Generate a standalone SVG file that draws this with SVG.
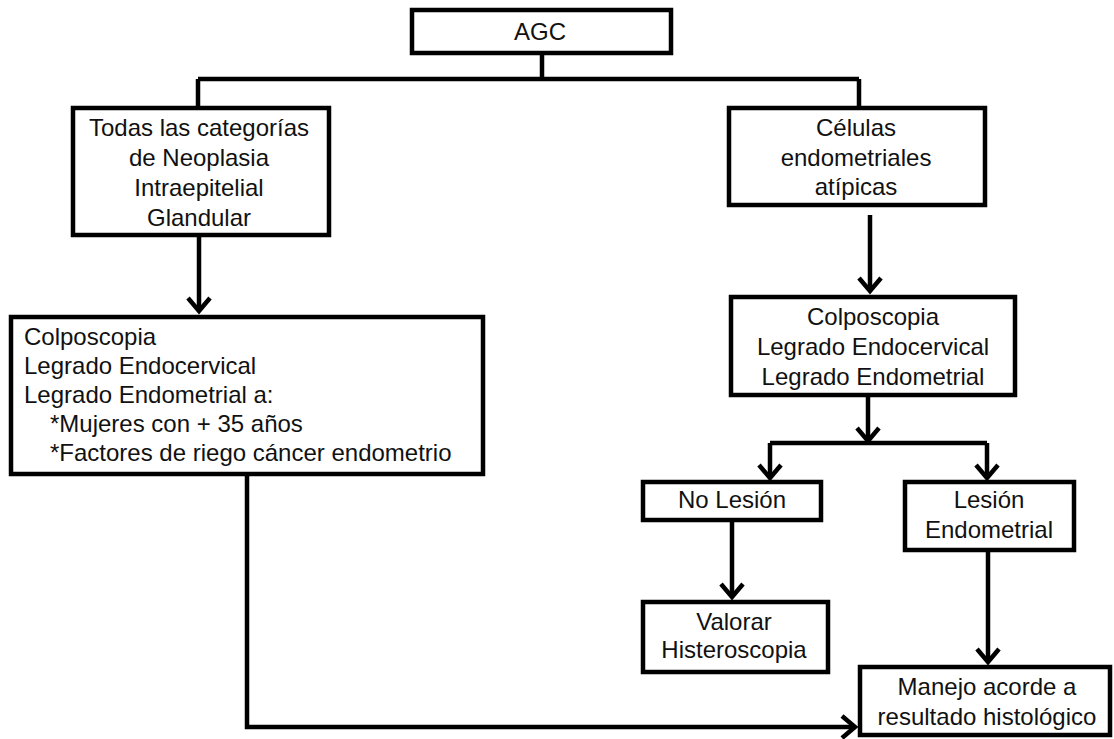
<svg xmlns="http://www.w3.org/2000/svg" width="1114" height="739" viewBox="0 0 1114 739">
<style>
.box{fill:#fff;stroke:#000;stroke-width:4.5}
.t{font-family:"Liberation Sans",Arial,sans-serif;font-size:24px;fill:#111}
.c{text-anchor:middle}
.ln{fill:none;stroke:#000;stroke-width:4.5}
</style>
<defs>
<marker id="ah" markerUnits="userSpaceOnUse" viewBox="-16 -14 20 28" refX="0" refY="0" markerWidth="20" markerHeight="28" orient="auto">
<path d="M-13,-11 L0,0 L-13,11" fill="none" stroke="#000" stroke-width="4.5"/>
</marker>
</defs>
<rect width="1114" height="739" fill="#fff"/>
<g id="connectors">
<path class="ln" d="M542,53 V79 M198,79 H859 M198,79 V108 M859,79 V108"/>
<path class="ln" d="M199,237 V311" marker-end="url(#ah)"/>
<path class="ln" d="M870,215 V291" marker-end="url(#ah)"/>
<path class="ln" d="M868,397 V441" marker-end="url(#ah)"/>
<path class="ln" d="M770,443 H987"/>
<path class="ln" d="M770,443 V478" marker-end="url(#ah)"/>
<path class="ln" d="M987,443 V478" marker-end="url(#ah)"/>
<path class="ln" d="M732,522 V597" marker-end="url(#ah)"/>
<path class="ln" d="M988,552 V662" marker-end="url(#ah)"/>
<path class="ln" d="M247,476 V727 H855" marker-end="url(#ah)"/>
</g>
<g id="agc">
<rect class="box" x="412" y="10" width="259" height="43"/>
<text class="t c" x="540" y="40">AGC</text>
</g>
<g id="todas">
<rect class="box" x="73" y="108" width="256" height="127"/>
<text class="t c" x="199" y="136">Todas las categorías</text>
<text class="t c" x="199" y="166">de Neoplasia</text>
<text class="t c" x="199" y="196">Intraepitelial</text>
<text class="t c" x="199" y="226">Glandular</text>
</g>
<g id="celulas">
<rect class="box" x="729" y="108" width="256" height="97"/>
<text class="t c" x="856" y="136">Células</text>
<text class="t c" x="856" y="166">endometriales</text>
<text class="t c" x="856" y="195">atípicas</text>
</g>
<g id="colpo-left">
<rect class="box" x="11" y="317" width="472" height="157"/>
<text class="t" x="24" y="345">Colposcopia</text>
<text class="t" x="24" y="374">Legrado Endocervical</text>
<text class="t" x="24" y="403">Legrado Endometrial a:</text>
<text class="t" x="50" y="432">*Mujeres con + 35 años</text>
<text class="t" x="50" y="461">*Factores de riego cáncer endometrio</text>
</g>
<g id="colpo-right">
<rect class="box" x="731" y="297" width="284" height="98"/>
<text class="t c" x="873" y="325">Colposcopia</text>
<text class="t c" x="873" y="355">Legrado Endocervical</text>
<text class="t c" x="873" y="385">Legrado Endometrial</text>
</g>
<g id="no-lesion">
<rect class="box" x="643" y="482" width="178" height="38"/>
<text class="t c" x="732" y="508">No Lesión</text>
</g>
<g id="lesion">
<rect class="box" x="905" y="482" width="169" height="68"/>
<text class="t c" x="989" y="508">Lesión</text>
<text class="t c" x="989" y="538">Endometrial</text>
</g>
<g id="valorar">
<rect class="box" x="643" y="602" width="185" height="70"/>
<text class="t c" x="734" y="630">Valorar</text>
<text class="t c" x="734" y="658">Histeroscopia</text>
</g>
<g id="manejo">
<rect class="box" x="860" y="667" width="250" height="68"/>
<text class="t c" x="987" y="695">Manejo acorde a</text>
<text class="t c" x="987" y="725">resultado histológico</text>
</g>
</svg>
